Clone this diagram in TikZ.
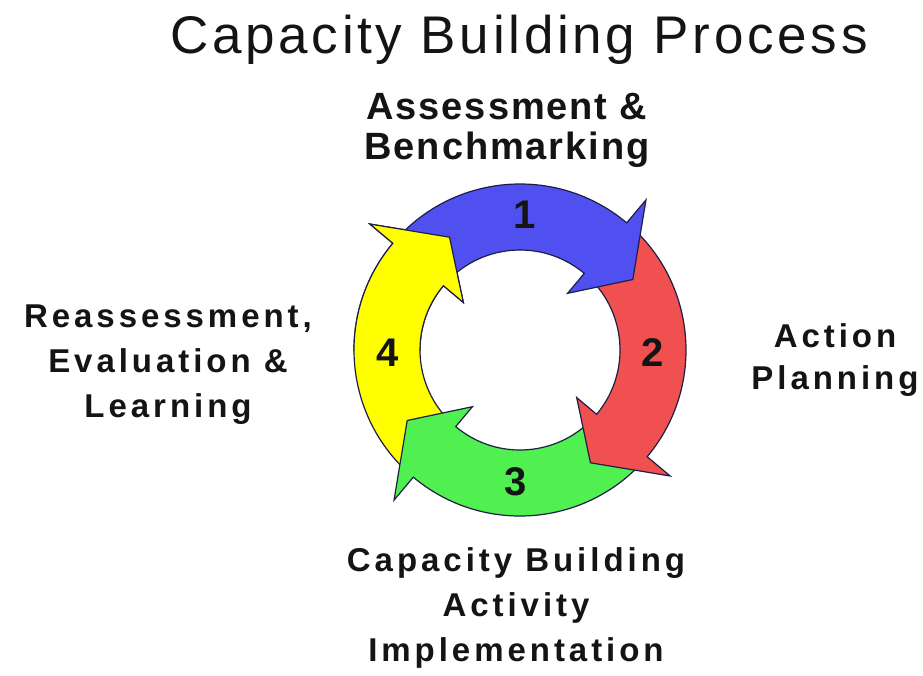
\documentclass[tikz,border=0pt]{standalone}
\usepackage{fontspec}
\newfontfamily\titlefont[LetterSpace=7]{Liberation Sans}
\newfontfamily\headfont[LetterSpace=5]{Liberation Sans}
\newfontfamily\labelfont[LetterSpace=12]{Liberation Sans}
\newfontfamily\numfont{Liberation Sans}
\definecolor{segblue}{RGB}{80,80,240}
\definecolor{segred}{RGB}{240,80,80}
\definecolor{seggreen}{RGB}{80,240,80}
\definecolor{segyellow}{RGB}{255,255,0}
\definecolor{segline}{RGB}{30,30,70}
\definecolor{ink}{RGB}{20,20,20}

\begin{document}
\begin{tikzpicture}[x=1pt,y=1pt,
    seg/.style={draw=segline, line width=1.2pt, line join=miter},
    num/.style={font=\numfont\bfseries\fontsize{40}{40}\selectfont, text=ink, inner sep=0pt},
    lbl/.style={align=center, inner sep=0pt, text=ink}]
    \useasboundingbox (0,0) rectangle (923,-675);
    \fill[white] (0,0) rectangle (923,-675);
    % Title
    \node[anchor=base, text=ink, font=\titlefont\fontsize{53}{60}\selectfont] (title) at (519,-53) {Capacity Building Process};
    % Cycle of four arrows
    \begin{scope}[shift={(520,-350)}]
        \foreach \clr/\b in {yellow/-220, green/-130, red/-40, blue/50} {
            \draw[seg, fill=seg\clr] ({\b+90}:166) arc[start angle=\b+90, end angle=\b, radius=166]
                -- (\b:196) -- ({\b-18}:133) -- (\b:74) -- (\b:100)
                arc[start angle=\b, end angle=\b+90, radius=100] -- cycle;
        }
        % Yellow head back over the blue tail
        \begin{scope}
            \clip (-220,0) rectangle (0,220);
            \draw[seg, fill=segyellow] (-130:166) arc[start angle=-130, end angle=-220, radius=166]
                -- (-220:196) -- (-238:133) -- (-220:74) -- (-220:100)
                arc[start angle=-220, end angle=-130, radius=100] -- cycle;
        \end{scope}
        % Step numbers
        \node[num] (n1) at (88:135) {1};
        \node[num] (n2) at (-1:133) {2};
        \node[num] (n3) at (-92:132) {3};
        \node[num] (n4) at (181:132) {4};
    \end{scope}
    % Step labels
    \node[lbl, font=\headfont\bfseries\fontsize{38}{40}\selectfont] (assess) at (507,-130) {Assessment \&\\Benchmarking};
    \node[lbl, font=\labelfont\bfseries\fontsize{33}{42}\selectfont] (plan) at (835,-360) {Action\\Planning};
    \node[lbl, font=\labelfont\bfseries\fontsize{33}{45}\selectfont] (impl) at (516,-608) {Capacity Building\\Activity\\Implementation};
    \node[lbl, font=\labelfont\bfseries\fontsize{33}{45}\selectfont] (learn) at (168,-365) {Reassessment,\\Evaluation \&\\Learning};
\end{tikzpicture}
\end{document}
